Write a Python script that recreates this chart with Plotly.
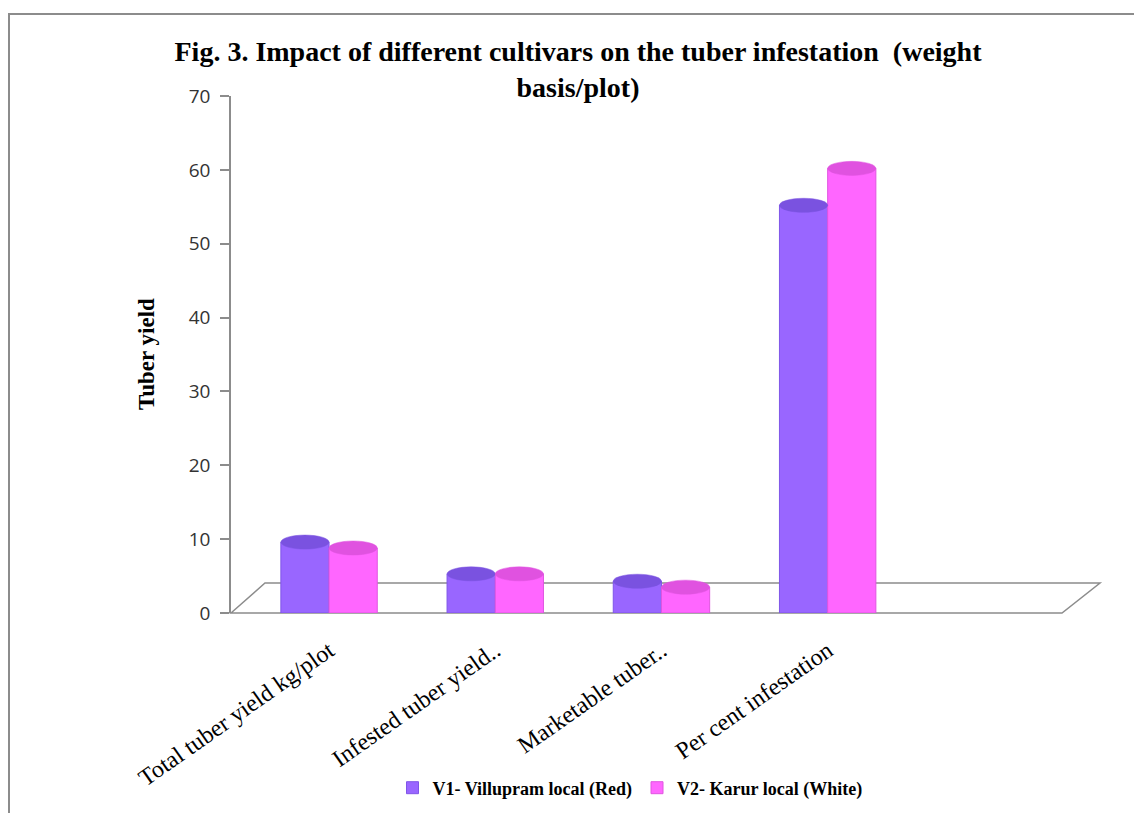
import plotly.graph_objects as go

# Tuber data per cultivar (weight basis per plot)
categories = [
    "Total tuber yield kg/plot",
    "Infested tuber yield..",
    "Marketable tuber..",
    "Per cent infestation",
]
v1_name = "V1- Villupram local (Red)"
v2_name = "V2- Karur local (White)"
v1_values = [9.6, 5.3, 4.3, 55.2]
v2_values = [8.8, 5.3, 3.5, 60.2]

y_ticks = [0, 10, 20, 30, 40, 50, 60, 70]

W, H = 1134, 813
L, R, T, B = 231, 1062, 96, 613  # plot area in pixels

purple, purple_top = "#9966ff", "#7a52e0"
pink, pink_top = "#ff66ff", "#e052e0"

fig = go.Figure()
fig.add_trace(go.Bar(
    x=categories, y=v1_values, name=v1_name,
    marker=dict(color=purple, line=dict(color="#7f55e8", width=1)),
))
fig.add_trace(go.Bar(
    x=categories, y=v2_values, name=v2_name,
    marker=dict(color=pink, line=dict(color="#e055e0", width=1)),
))

bargap = 0.42
bar_w = (1 - bargap) / 2
shapes = []

# Elliptical caps give the columns a cylinder look
cap_h = 1.9
for series, (vals, top_col) in enumerate(
        [(v1_values, purple_top), (v2_values, pink_top)]):
    off = (series - 0.5) * bar_w
    for i, v in enumerate(vals):
        xc = i + off
        shapes.append(dict(
            type="circle", xref="x", yref="y",
            x0=xc - bar_w / 2, x1=xc + bar_w / 2,
            y0=v - cap_h / 2, y1=v + cap_h / 2,
            fillcolor=top_col, line=dict(color=top_col, width=0.5),
        ))

def px(xp):
    return (xp - L) / (R - L)

def py(yp):
    return (B - yp) / (B - T)

# Floor of the chart drawn as a parallelogram
shapes.append(dict(
    type="path", xref="paper", yref="paper", layer="below",
    path=(f"M {px(231)},{py(613)} L {px(265)},{py(583)} "
          f"L {px(1100)},{py(583)} L {px(1062)},{py(613)} Z"),
    line=dict(color="#8c8c8c", width=1.5),
))
# Outer chart frame
shapes.append(dict(
    type="rect", xref="paper", yref="paper",
    x0=px(9), x1=px(1140), y0=py(820), y1=py(14),
    line=dict(color="#8c8c8c", width=2), fillcolor="rgba(0,0,0,0)",
))

fig.update_layout(
    width=W, height=H,
    margin=dict(l=L, r=W - R, t=T, b=H - B, autoexpand=False),
    paper_bgcolor="white", plot_bgcolor="white",
    barmode="group", bargap=bargap, bargroupgap=0,
    shapes=shapes,
    title=dict(
        text="Fig. 3. Impact of different cultivars on the tuber infestation  (weight<br>basis/plot)",
        font=dict(family="Liberation Serif", size=28, color="black", weight="bold"),
        x=px(578), xanchor="center", xref="paper",
        y=1 - 61 / H, yanchor="middle", yref="container",
    ),
    xaxis=dict(
        type="category", range=[-0.59, 4.41],
        tickangle=-35, showline=False, ticks="", showgrid=False,
        ticklabelstandoff=18,
        tickfont=dict(family="Liberation Serif", size=24, color="black"),
    ),
    yaxis=dict(
        range=[0, 70], tickvals=y_ticks, showgrid=False, zeroline=False,
        showline=True, linecolor="#8c8c8c", linewidth=1.5,
        ticks="outside", ticklen=9, tickcolor="#8c8c8c", tickwidth=1.5,
        ticklabelstandoff=6,
        tickfont=dict(family="Open Sans", size=19, color="#333333"),
    ),
    legend=dict(
        orientation="h", x=px(630), xanchor="center", y=py(788), yanchor="middle",
        font=dict(family="Liberation Serif", size=18, color="black", weight="bold"),
        itemwidth=30, traceorder="normal",
    ),
    annotations=[dict(
        text="<b>Tuber yield</b>", xref="paper", yref="paper",
        x=px(146), y=py(354), textangle=-90, showarrow=False,
        xanchor="center", yanchor="middle",
        font=dict(family="Liberation Serif", size=23, color="black"),
    )],
)

fig.write_html("out.html")
